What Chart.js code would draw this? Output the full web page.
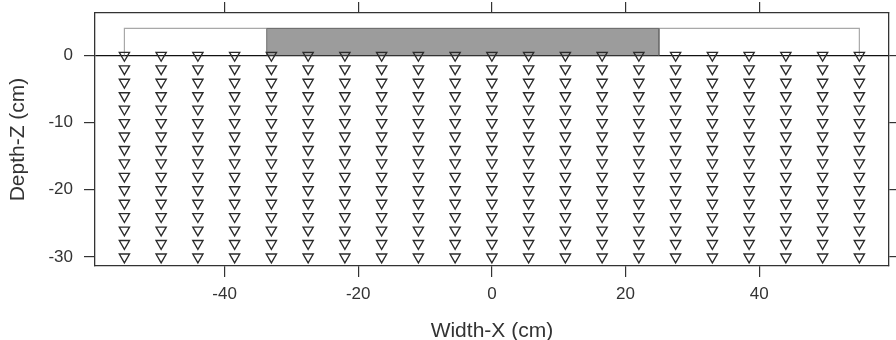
<!DOCTYPE html>
<html>
<head>
<meta charset="utf-8">
<script src="https://cdn.jsdelivr.net/npm/chart.js@4/dist/chart.umd.min.js"></script>
<style>
  html, body { margin: 0; padding: 0; background: #ffffff; }
  #wrap { width: 896px; height: 340px; }
</style>
</head>
<body>
<div id="wrap"><canvas id="c" width="896" height="340"></canvas></div>
<script>
// Sensor layout (cm): horizontal positions and depths
const sensorX = [-55, -49.5, -44, -38.5, -33, -27.5, -22, -16.5, -11, -5.5, 0,
                 5.5, 11, 16.5, 22, 27.5, 33, 38.5, 44, 49.5, 55];
const sensorZ = [0, -2, -4, -6, -8, -10, -12, -14, -16, -18, -20, -22, -24, -26, -28, -30];

// Container outline and loaded strip on the surface (cm)
const tankX = [-55, 55];
const tankTop = 4;
const loadX = [-33.7, 25];

// Axis ticks and limits
const xTicks = [-40, -20, 0, 20, 40];
const zTicks = [0, -10, -20, -30];
const xRange = [-59.4, 59.4];
const zRange = [-31.35, 6.3];

const ink = '#333333';
const FONT = "'Liberation Sans', Arial, sans-serif";

const sensorPoints = [];
for (const x of sensorX) for (const z of sensorZ) sensorPoints.push({ x, y: z });

const tankOutline = [
  { x: tankX[0], y: 0 }, { x: tankX[0], y: tankTop },
  { x: tankX[1], y: tankTop }, { x: tankX[1], y: 0 }
];
const loadStrip = [
  { x: loadX[0], y: 0 }, { x: loadX[0], y: tankTop },
  { x: loadX[1], y: tankTop }, { x: loadX[1], y: 0 }
];

const setTicks = vals => scale => { scale.ticks = vals.map(v => ({ value: v })); };

// fixed box sizes so the panel sits at a known place; no extra edge padding
const fixBox = (dim, size) => s => {
  s[dim] = size;
  s.paddingTop = 0; s.paddingBottom = 0; s.paddingLeft = 0; s.paddingRight = 0;
};

const tickGrid = (zeroLine) => ({
  drawOnChartArea: zeroLine,
  color: ctx => (zeroLine && ctx.tick && ctx.tick.value === 0) ? '#111111' : 'rgba(0,0,0,0)',
  lineWidth: 1.2,
  tickColor: ink,
  tickLength: 11,
  tickWidth: 1.2,
  drawTicks: true
});
const frame = { display: true, color: ink, width: 1.3 };

new Chart(document.getElementById('c'), {
  type: 'scatter',
  data: {
    datasets: [
      {
        label: 'sensors',
        data: sensorPoints,
        pointStyle: 'triangle',
        rotation: 180,
        pointRadius: 5.9,
        pointBorderWidth: 1.35,
        pointBorderColor: '#2b2b2b',
        pointBackgroundColor: 'rgba(0,0,0,0)',
        showLine: false
      },
      {
        label: 'load',
        type: 'line',
        data: loadStrip,
        borderColor: '#6e6e6e',
        borderWidth: 1,
        backgroundColor: '#9c9c9c',
        fill: 'origin',
        pointRadius: 0,
        tension: 0
      },
      {
        label: 'tank',
        type: 'line',
        data: tankOutline,
        borderColor: '#a8a8a8',
        borderWidth: 1.2,
        fill: false,
        pointRadius: 0,
        tension: 0
      }
    ]
  },
  options: {
    responsive: false,
    animation: false,
    devicePixelRatio: 1,
    layout: { padding: 0 },
    plugins: { legend: { display: false }, tooltip: { enabled: false } },
    scales: {
      x: {
        type: 'linear', position: 'bottom',
        min: xRange[0], max: xRange[1],
        afterBuildTicks: setTicks(xTicks),
        afterFit: fixBox('height', 74),
        grid: tickGrid(false),
        border: frame,
        ticks: { color: ink, font: { family: FONT, size: 17 }, padding: 7, maxRotation: 0 },
        title: { display: true, text: 'Width-X (cm)', color: ink,
                 font: { family: FONT, size: 21, lineHeight: 0.8 }, padding: { top: 0, bottom: 0 } }
      },
      xTop: {
        type: 'linear', position: 'top',
        min: xRange[0], max: xRange[1],
        afterBuildTicks: setTicks(xTicks),
        afterFit: fixBox('height', 13),
        grid: tickGrid(false),
        border: frame,
        ticks: { display: false }
      },
      y: {
        type: 'linear', position: 'left',
        min: zRange[0], max: zRange[1],
        afterBuildTicks: setTicks(zTicks),
        afterFit: fixBox('width', 95),
        grid: tickGrid(true),
        border: frame,
        ticks: { color: ink, font: { family: FONT, size: 17 }, padding: 11 },
        title: { display: true, text: 'Depth-Z (cm)', color: ink,
                 font: { family: FONT, size: 21, lineHeight: 1 }, padding: { top: 8, bottom: 0 } }
      },
      yRight: {
        type: 'linear', position: 'right',
        min: zRange[0], max: zRange[1],
        afterBuildTicks: setTicks(zTicks),
        afterFit: fixBox('width', 3),
        grid: tickGrid(false),
        border: frame,
        ticks: { display: false }
      }
    }
  }
});
</script>
</body>
</html>
